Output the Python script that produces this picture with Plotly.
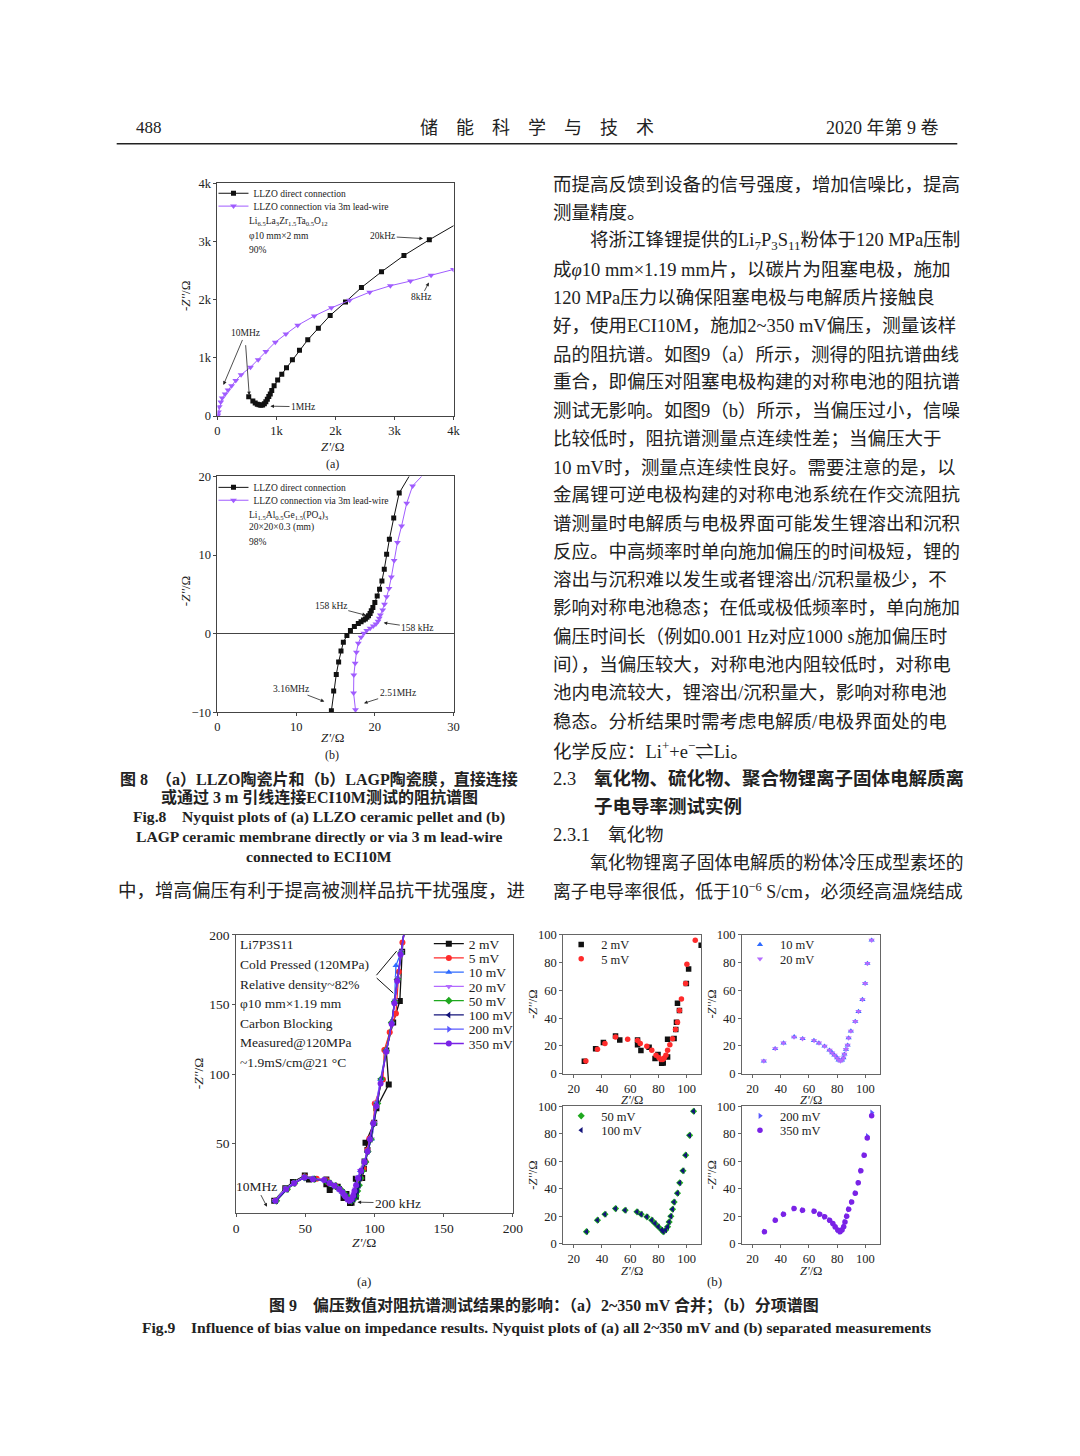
import plotly.graph_objects as go

W, H = 1080, 1456          # target page size
OFF = 8                    # default body margin of the html page
FW, FH = W - 2 * OFF, H - 2 * OFF
SERIF = "Liberation Serif, Noto Sans CJK SC, serif"
INK = "#222222"

# ---------------- data: Fig.8(a) LLZO ----------------
llzo_direct_re = [530, 600, 640, 675, 705, 735, 765, 795, 820, 845, 870, 895, 920, 960, 1020, 1090, 1170, 1270,
                  1390, 1530, 1710, 1910, 2170, 2440, 2780, 3160, 3590, 4100]
llzo_direct_im = [330, 260, 225, 205, 195, 185, 190, 210, 245, 290, 335, 380, 440, 520, 620, 720, 830, 970,
                  1130, 1310, 1510, 1730, 1960, 2210, 2480, 2760, 3030, 3330]
llzo_wire_re = [0, 5, 17, 30, 56, 80, 130, 180, 240, 310, 400, 560, 690, 820, 980, 1160, 1360, 1640, 1930,
                2240, 2580, 2930, 3270, 3620, 4000]
llzo_wire_im = [0, 20, 70, 160, 240, 310, 380, 450, 520, 610, 710, 840, 970, 1110, 1270, 1410, 1560, 1720, 1860,
                1990, 2130, 2240, 2320, 2420, 2520]
llzo_ticks = [0, 1000, 2000, 3000, 4000]
llzo_ticktext = ["0", "1k", "2k", "3k", "4k"]

# ---------------- data: Fig.8(b) LAGP ----------------
lagp_direct_re = [14.48, 14.77, 15.1, 15.4, 15.7, 16.0, 16.45, 16.9, 17.4, 17.9, 18.25, 18.55, 18.8, 19.0, 19.2,
                  19.4, 19.55, 19.75, 20.0, 20.3, 20.6, 20.9, 21.2, 21.5, 21.85, 22.4, 23.1, 24.7]
lagp_direct_im = [-9.83, -7.3, -5.2, -3.6, -2.2, -1.1, -0.25, 0.38, 0.89, 1.3, 1.5, 1.73, 1.86, 2.07, 2.28,
                  2.57, 2.9, 3.33, 3.97, 4.77, 5.65, 6.7, 8.2, 10.1, 12.0, 14.7, 17.9, 20.6]
lagp_wire_re = [17.54, 17.3, 17.33, 17.5, 17.66, 17.9, 18.25, 18.6, 18.97, 19.4, 19.8, 20.14, 20.4, 20.56, 20.7,
                21.0, 21.23, 21.5, 21.8, 22.1, 22.45, 22.87, 23.4, 24.05, 24.8, 26.5]
lagp_wire_im = [-9.7, -7.55, -5.27, -3.76, -2.36, -1.22, -0.46, 0.04, 0.38, 0.67, 0.97, 1.22, 1.56, 1.94, 2.36,
                3.0, 3.75, 4.68, 5.74, 7.2, 9.3, 11.6, 13.7, 16.6, 18.8, 20.6]

# ---------------- data: Fig.9 Li7P3S11 bias series ----------------
mv2_re = [27.5, 35.5, 41, 49.6, 52.6, 65.2, 65.2, 67.6, 73.4, 77.6, 79.7, 82.3, 83.4, 86.5, 86.5, 91.1, 92.3,
          92.8, 94.9, 93.5, 99.8, 101.4, 110.3, 108.5, 113.5, 118.3, 120, 122]
mv2_im = [9, 18, 22.5, 27.1, 24.3, 24.3, 20.9, 16.7, 19, 10.9, 13.8, 7.4, 7.6, 11.9, 24.8, 25.3, 31.9,
          37.1, 45.5, 50.7, 65, 75.5, 92.6, 117, 137, 152.5, 188, 210]
mv5_re = [28.6, 36.8, 42.1, 49.6, 58.2, 65.2, 67.1, 71.8, 75.3, 78.3, 80.4, 81.8, 83, 84.1, 85.3, 86.5, 88.1,
          90, 92.1, 93.5, 94.9, 96.3, 99.3, 100.2, 106.1, 107.1, 111, 115.5, 117.6, 120.2, 122.5]
mv5_im = [9.1, 17.6, 21.7, 26.4, 24.8, 23.8, 21.7, 19.8, 16.9, 13.3, 11.4, 10.2, 10.2, 11.2, 13.3, 16.9, 20.9,
          25.2, 31.9, 37.1, 45.5, 53.8, 65, 78.8, 96.2, 117.3, 130, 143.5, 173.6, 194.5, 210]
mv10_re = [28, 36, 42, 49.5, 55.5, 63.5, 67, 71, 74.5, 76.5, 78, 80, 81, 82.3, 83.4, 84.4, 85.1, 86.2, 87.4,
           88.1, 89.7, 92.8, 95.1, 97.9, 99.8, 101.4, 104.4, 108.5, 112.5, 114.5, 115.5, 119, 121.5]
mv10_im = [9, 18, 22, 26.5, 25.2, 23.8, 22, 19.8, 16.9, 15, 13.3, 11.4, 9.8, 9.1, 9.8, 11.4, 14, 17.4, 20.5,
           25.7, 30.7, 37.6, 44.8, 53.4, 65, 79.5, 96.2, 117, 137, 152, 178, 187, 203]
mv20_re = [28, 36.1, 41.9, 49.4, 55.4, 63.6, 67.1, 71.1, 74.6, 76.4, 78.1, 79.9, 81.1, 82.3, 83.4, 84.4, 85.1,
           86.2, 87.4, 88.1, 89.7, 92.8, 95.1, 97.9, 99.8, 101.4, 104.4, 108.3, 112.3, 114.8, 116.8, 119.2, 121.8]
mv20_im = [9.1, 18.1, 22.1, 26.4, 25.2, 23.8, 22.1, 19.8, 16.9, 15, 13.3, 11.4, 9.8, 9.1, 9.8, 11.4, 14, 17.4,
           20.5, 25.7, 30.7, 37.6, 44.8, 53.4, 65, 79.5, 96.2, 116, 136, 153, 169, 188, 205]
mv50_re = [29, 36.8, 42.1, 49.6, 56.4, 64.8, 67.8, 71.8, 75.3, 77.6, 79.9, 82.3, 83.4, 85.1, 86.5, 87.6, 88.8,
           90, 91.1, 93.5, 95.1, 97.4, 99.3, 102.1, 104.9, 108.4, 112.4, 114.6, 116.6, 119.1, 121.6]
mv50_im = [8.9, 17.3, 21.6, 25.7, 24.5, 23.3, 21.6, 19.7, 17.3, 14.9, 12.5, 10.1, 8.9, 10.1, 12.5, 16, 20.1,
           25.2, 30.4, 36.9, 44.4, 53.2, 64.5, 78.9, 96.4, 117, 137, 152, 168, 187, 203]
mv100_re = [29.1, 36.8, 42.1, 49.6, 56.4, 64.8, 67.8, 71.8, 75.3, 77.6, 79.9, 82.3, 83.4, 85.1, 86.5, 87.6,
            88.8, 90, 91.1, 93.5, 95.1, 97.4, 99.3, 102.1, 104.9, 108.5, 112.5, 114.5, 116.5, 119, 121.5]
mv100_im = [8.9, 17.3, 21.6, 25.7, 24.5, 23.3, 21.6, 19.7, 17.3, 14.9, 12.5, 10.1, 8.9, 10.1, 12.5, 16, 20.1,
            25.2, 30.4, 36.9, 44.4, 53.2, 64.5, 78.9, 96.4, 117, 137, 152, 168, 187, 203]
mv200_re = [28.4, 36.1, 41.9, 49.4, 55.4, 63.6, 67.6, 71.1, 74.6, 76.9, 78.5, 80.4, 82, 83.4, 84.6, 85.5, 86.7,
            88.1, 90.2, 92.8, 94.9, 96.7, 99.1, 101.4, 104.5, 108.6, 112.6, 114.6, 116.6, 119.1, 121.6]
mv200_im = [8.9, 17.3, 21.6, 25.7, 24.5, 23.8, 21.6, 19.7, 17.3, 14.9, 12.5, 10.1, 8.9, 10.1, 12.5, 16, 20.1,
            25.2, 30.4, 36.9, 44.4, 53.2, 64.5, 78.2, 95.3, 117, 137, 152, 168, 187, 203]
mv350_re = [28.4, 36.1, 41.9, 49.4, 55.4, 63.6, 67.6, 71.1, 74.6, 76.9, 78.5, 80.4, 82, 83.4, 84.6, 85.5, 86.7,
            88.1, 90.2, 92.8, 94.9, 96.7, 99.1, 101.3, 104.4, 108.4, 112.4, 114.4, 116.4, 118.9, 121.4]
mv350_im = [8.9, 17.3, 21.6, 25.7, 24.5, 23.8, 21.6, 19.7, 17.3, 14.9, 12.5, 10.1, 8.9, 10.1, 12.5, 16, 20.1,
            25.2, 30.4, 36.9, 44.4, 53.2, 64.5, 76.9, 93.2, 116, 136, 151, 167, 186, 202]

bias_names = ["2 mV", "5 mV", "10 mV", "20 mV", "50 mV", "100 mV", "200 mV", "350 mV"]
bias_re = [mv2_re, mv5_re, mv10_re, mv20_re, mv50_re, mv100_re, mv200_re, mv350_re]
bias_im = [mv2_im, mv5_im, mv10_im, mv20_im, mv50_im, mv100_im, mv200_im, mv350_im]
bias_colors = ["#111111", "#ff2b2b", "#2f6bff", "#b36bff", "#1fa81f", "#13137a", "#5a5aff", "#7a22e6"]
bias_symbols = ["square", "circle", "triangle-up", "triangle-down", "diamond", "triangle-left",
                "triangle-right", "circle"]

fig9a_ticks_x = [0, 50, 100, 150, 200]
fig9a_ticks_y = [50, 100, 150, 200]
fig9b_ticks_x = [20, 40, 60, 80, 100]
fig9b_ticks_y = [0, 20, 40, 60, 80, 100]


def PX(x):
    return (x - OFF) / FW


def PY(y):
    return 1 - (y - OFF) / FH


fig = go.Figure()
lay = {}
legend_count = [0]


def new_legend(x, y, size):
    legend_count[0] += 1
    n = legend_count[0]
    key = "legend" if n == 1 else f"legend{n}"
    lay[key] = dict(x=PX(x), y=PY(y), xanchor="left", yanchor="middle", bgcolor="rgba(0,0,0,0)",
                    borderwidth=0, font=dict(family=SERIF, size=size, color=INK), itemwidth=30,
                    tracegroupgap=0, itemclick=False, itemdoubleclick=False)
    return key


# ---- Fig 8 traces ----
PURPLE = "#a05cff"
fig8_sets = [
    ("x", "y", llzo_direct_re, llzo_direct_im, llzo_wire_re, llzo_wire_im, 188),
    ("x2", "y2", lagp_direct_re, lagp_direct_im, lagp_wire_re, lagp_wire_im, 485),
]
for xa, ya, dre, dim, wre, wim, ly in fig8_sets:
    fig.add_trace(go.Scatter(x=dre, y=dim, name="LLZO direct connection", mode="lines+markers",
                             xaxis=xa, yaxis=ya, legend=new_legend(213, ly, 9.5),
                             line=dict(color="#111", width=1), marker=dict(symbol="square", size=5, color="#111")))
    fig.add_trace(go.Scatter(x=wre, y=wim, name="LLZO connection via 3m lead-wire", mode="lines+markers",
                             xaxis=xa, yaxis=ya, legend=new_legend(213, ly + 13, 9.5),
                             line=dict(color=PURPLE, width=1),
                             marker=dict(symbol="triangle-down", size=6, color=PURPLE)))

# ---- Fig 9(a) combined ----
for i, (nm, xr, yr, c, s) in enumerate(zip(bias_names, bias_re, bias_im, bias_colors, bias_symbols)):
    fig.add_trace(go.Scatter(x=xr, y=yr, name=nm, mode="lines+markers", xaxis="x3", yaxis="y3",
                             legend=new_legend(431, 946 + i * 14.4, 13.5), line=dict(color=c, width=1.3),
                             marker=dict(symbol=s, size=6, color=c)))

# ---- Fig 9(b) separated ----
boxes = [(567, 707, 937, 1077), (748, 888, 937, 1077), (567, 707, 1110, 1249), (748, 888, 1110, 1249)]
for k, (x0, x1, y0, y1) in enumerate(boxes):
    n = k + 4
    for j, i in enumerate([2 * k, 2 * k + 1]):
        fig.add_trace(go.Scatter(x=bias_re[i], y=bias_im[i], name=bias_names[i], mode="markers",
                                 xaxis=f"x{n}", yaxis=f"y{n}",
                                 legend=new_legend(x0 - 2, y0 + 10 + j * 14.5, 12.5),
                                 marker=dict(symbol=bias_symbols[i], size=5.5, color=bias_colors[i])))


def axis(x0, x1, rng, vals, text=None, anchor=None, size=12.5, color="#555", domain_y=None):
    d = dict(range=rng, tickvals=vals, showline=True, mirror=True, linecolor=color, linewidth=1,
             ticks="outside", ticklen=3, tickcolor=color, showgrid=False, zeroline=False,
             tickfont=dict(family=SERIF, size=size, color=INK), anchor=anchor, fixedrange=True)
    if text is not None:
        d["ticktext"] = text
    if domain_y is None:
        d["domain"] = [PX(x0), PX(x1)]
    else:
        d["domain"] = [PY(domain_y[1]), PY(domain_y[0])]
    return d


# Fig 8a
lay["xaxis"] = axis(217, 456, [0, 4000], llzo_ticks, llzo_ticktext, "y", 12.5, "#444")
lay["yaxis"] = axis(0, 0, [0, 4000], llzo_ticks, llzo_ticktext, "x", 12.5, "#444", domain_y=(178, 413))
# Fig 8b
lay["xaxis2"] = axis(217, 456, [0, 30], [0, 10, 20, 30], None, "y2", 12.5, "#444")
lay["yaxis2"] = axis(0, 0, [-10, 20], [-10, 0, 10, 20], None, "x2", 12.5, "#444", domain_y=(474, 712))
lay["yaxis2"].update(zeroline=True, zerolinecolor="#444", zerolinewidth=1)
# Fig 9a
lay["xaxis3"] = axis(236, 516, [0, 200], fig9a_ticks_x, None, "y3", 13.5, "#555")
lay["yaxis3"] = axis(0, 0, [0, 200], fig9a_ticks_y, None, "x3", 13.5, "#555", domain_y=(937, 1218))
# Fig 9b
for k, (x0, x1, y0, y1) in enumerate(boxes):
    n = k + 4
    lay[f"xaxis{n}"] = axis(x0, x1, [12.5, 110.5], fig9b_ticks_x, None, f"y{n}", 12.5, "#666")
    lay[f"yaxis{n}"] = axis(0, 0, [0, 100], fig9b_ticks_y, None, f"x{n}", 12.5, "#666", domain_y=(y0, y1))

ann = []


def ptext(text, x, y, size, xanchor="left", family=SERIF, angle=0, color=INK):
    ann.append(dict(text=text, x=PX(x), y=PY(y), xref="paper", yref="paper", xanchor=xanchor,
                    yanchor="middle", showarrow=False, textangle=angle,
                    font=dict(family=family, size=size, color=color)))


def arrow(text, tx, ty, hx, hy, xr, yr, size=10, head=2):
    ann.append(dict(text=text, x=hx, y=hy, ax=tx, ay=ty, xref=xr, yref=yr, axref=xr, ayref=yr,
                    showarrow=True, arrowhead=head, arrowsize=0.9, arrowwidth=0.8, arrowcolor="#222",
                    standoff=1, font=dict(family=SERIF, size=size, color=INK)))


# ---------- header ----------
ptext("488", 133, 122, 17)
ptext("储\u3000能\u3000科\u3000学\u3000与\u3000技\u3000术", 541, 122, 18, xanchor="center")
ptext("2020 年第 9 卷", 949, 122, 18, xanchor="right")

# ---------- Fig 8a annotations ----------
ptext("Li<sub>6.5</sub>La<sub>3</sub>Zr<sub>1.5</sub>Ta<sub>0.5</sub>O<sub>12</sub>", 247, 217, 9.5)
ptext("φ10 mm×2 mm", 247, 231, 9.5)
ptext("90%", 247, 245, 9.5)
arrow("20kHz", 2800, 3090, 3500, 3050, "x", "y", 9.5)
arrow("8kHz", 3450, 2040, 3590, 2310, "x", "y", 9.5)
arrow("10MHz", 470, 1420, 95, 520, "x", "y", 9.5)
arrow(" ", 470, 1330, 540, 340, "x", "y", 9.5)
arrow("1MHz", 1450, 160, 880, 170, "x", "y", 9.5)
ptext("-<i>Z''</i>/Ω", 184, 292, 13, xanchor="center", angle=-90)
ptext("<i>Z'</i>/Ω", 333, 444, 13, xanchor="center")
ptext("(a)", 333, 461, 12, xanchor="center")

# ---------- Fig 8b annotations ----------
ptext("Li<sub>1.5</sub>Al<sub>0.5</sub>Ge<sub>1.5</sub>(PO<sub>4</sub>)<sub>3</sub>", 247, 513, 9.5)
ptext("20×20×0.3 (mm)", 247, 526, 9.5)
ptext("98%", 247, 540, 9.5)
arrow("158 kHz", 14.4, 3.5, 19.0, 2.3, "x2", "y2", 9.5)
arrow("158 kHz", 25.4, 0.75, 21.0, 1.4, "x2", "y2", 9.5)
arrow("3.16MHz", 9.3, -7.0, 13.7, -8.7, "x2", "y2", 9.5)
arrow("2.51MHz", 22.9, -7.5, 18.5, -8.9, "x2", "y2", 9.5)
ptext("-<i>Z''</i>/Ω", 184, 590, 13, xanchor="center", angle=-90)
ptext("<i>Z'</i>/Ω", 333, 738, 13, xanchor="center")
ptext("(b)", 333, 755, 12, xanchor="center")

# ---------- Fig 8 caption ----------
ptext("<b>图 8\u3000（a）LLZO陶瓷片和（b）LAGP陶瓷膜，直接连接</b>", 116, 779, 16)
ptext("<b>或通过 3 m 引线连接ECI10M测试的阻抗谱图</b>", 320, 798, 16, xanchor="center")
ptext("<b>Fig.8\u2003Nyquist plots of (a) LLZO ceramic pellet and (b)</b>", 320, 818, 15.6, xanchor="center")
ptext("<b>LAGP ceramic membrane directly or via 3 m lead-wire</b>", 320, 838, 15.6, xanchor="center")
ptext("<b>connected to ECI10M</b>", 320, 858, 15.6, xanchor="center")
ptext("中，增高偏压有利于提高被测样品抗干扰强度，进", 114, 893, 18.5)

# ---------- right column body text ----------
BODY = 18.5
body_lines = [
    (555, 180, "而提高反馈到设备的信号强度，增加信噪比，提高", BODY),
    (555, 208, "测量精度。", BODY),
    (592, 237, "将浙江锋锂提供的Li<sub>7</sub>P<sub>3</sub>S<sub>11</sub>粉体于120 MPa压制", BODY),
    (555, 265, "成<i>φ</i>10 mm×1.19 mm片，以碳片为阻塞电极，施加", BODY),
    (555, 294, "120 MPa压力以确保阻塞电极与电解质片接触良", BODY),
    (555, 322, "好，使用ECI10M，施加2~350 mV偏压，测量该样", BODY),
    (555, 351, "品的阻抗谱。如图9（a）所示，测得的阻抗谱曲线", BODY),
    (555, 379, "重合，即偏压对阻塞电极构建的对称电池的阻抗谱", BODY),
    (555, 408, "测试无影响。如图9（b）所示，当偏压过小，信噪", BODY),
    (555, 436, "比较低时，阻抗谱测量点连续性差；当偏压大于", BODY),
    (555, 465, "10 mV时，测量点连续性良好。需要注意的是，以", BODY),
    (555, 493, "金属锂可逆电极构建的对称电池系统在作交流阻抗", BODY),
    (555, 522, "谱测量时电解质与电极界面可能发生锂溶出和沉积", BODY),
    (555, 550, "反应。中高频率时单向施加偏压的时间极短，锂的", BODY),
    (555, 579, "溶出与沉积难以发生或者锂溶出/沉积量极少，不", BODY),
    (555, 607, "影响对称电池稳态；在低或极低频率时，单向施加", BODY),
    (555, 636, "偏压时间长（例如0.001 Hz对应1000 s施加偏压时", BODY),
    (555, 664, "间），当偏压较大，对称电池内阻较低时，对称电", BODY),
    (555, 693, "池内电流较大，锂溶出/沉积量大，影响对称电池", BODY),
    (555, 722, "稳态。分析结果时需考虑电解质/电极界面处的电", BODY),
    (555, 750, "化学反应：Li<sup>+</sup>+e<sup>−</sup>⇌Li。", BODY),
    (555, 836, "2.3.1", BODY),
    (610, 836, "氧化物", BODY),
    (592, 864, "氧化物锂离子固体电解质的粉体冷压成型素坯的", 17.8),
    (555, 893, "离子电导率很低，低于10<sup>−6</sup> S/cm，必须经高温烧结成", 17.8),
]
for x, y, t, s in body_lines:
    ptext(t, x, y, s)
ptext("2.3", 555, 779, BODY)
ptext("<b>氧化物、硫化物、聚合物锂离子固体电解质离</b>", 596, 779, BODY)
ptext("<b>子电导率测试实例</b>", 596, 807, BODY)

# ---------- Fig 9a annotations ----------
info = ["Li7P3S11", "Cold Pressed (120MPa)", "Relative density~82%", "φ10 mm×1.19 mm", "Carbon Blocking",
        "Measured@120MPa", "~1.9mS/cm@21 °C"]
for i, t in enumerate(info):
    ptext(t, 238, 947 + i * 19.8, 13.5)
arrow("10MHz", 14.5, 19.5, 22.6, 4, "x3", "y3", 13.5)
arrow("200 kHz", 117, 7.3, 87, 8, "x3", "y3", 13.5)
ann.append(dict(text="", x=116, y=188.4, ax=100.5, ay=170, xref="x3", yref="y3", axref="x3", ayref="y3",
                showarrow=True, arrowhead=0, arrowwidth=1, arrowcolor="#111"))
ann.append(dict(text="", x=113.6, y=158.2, ax=100.5, ay=170, xref="x3", yref="y3", axref="x3", ayref="y3",
                showarrow=True, arrowhead=0, arrowwidth=1, arrowcolor="#111"))
ptext("-<i>Z''</i>/Ω", 198, 1077, 13.5, xanchor="center", angle=-90)
ptext("<i>Z'</i>/Ω", 365, 1248, 13.5, xanchor="center")
ptext("(a)", 365, 1287, 13, xanchor="center")

# ---------- Fig 9b annotations ----------
for (x0, x1, y0, y1) in boxes:
    ptext("-<i>Z''</i>/Ω", x0 - 30, (y0 + y1) / 2, 12.5, xanchor="center", angle=-90)
    ptext("<i>Z'</i>/Ω", (x0 + x1) / 2, y1 + 27, 12.5, xanchor="center")
ptext("(b)", 720, 1287, 13, xanchor="center")

# ---------- Fig 9 caption ----------
ptext("<b>图 9\u3000偏压数值对阻抗谱测试结果的影响：（a）2~350 mV 合并；（b）分项谱图</b>", 548, 1311, 16,
      xanchor="center")
ptext("<b>Fig.9\u2003Influence of bias value on impedance results. Nyquist plots of (a) all 2~350 mV and "
      "(b) separated measurements</b>", 540, 1334, 15.6, xanchor="center")

lay["annotations"] = ann
lay["shapes"] = [dict(type="line", xref="paper", yref="paper", x0=PX(115), x1=PX(966), y0=PY(138), y1=PY(138),
                      line=dict(color="#222", width=1.5))]

fig.update_layout(**lay)
fig.update_layout(width=FW, height=FH, margin=dict(l=0, r=0, t=0, b=0), paper_bgcolor="white",
                  plot_bgcolor="white", showlegend=True, font=dict(family=SERIF, color=INK))

fig.write_html("out.html", config={"displayModeBar": False})
